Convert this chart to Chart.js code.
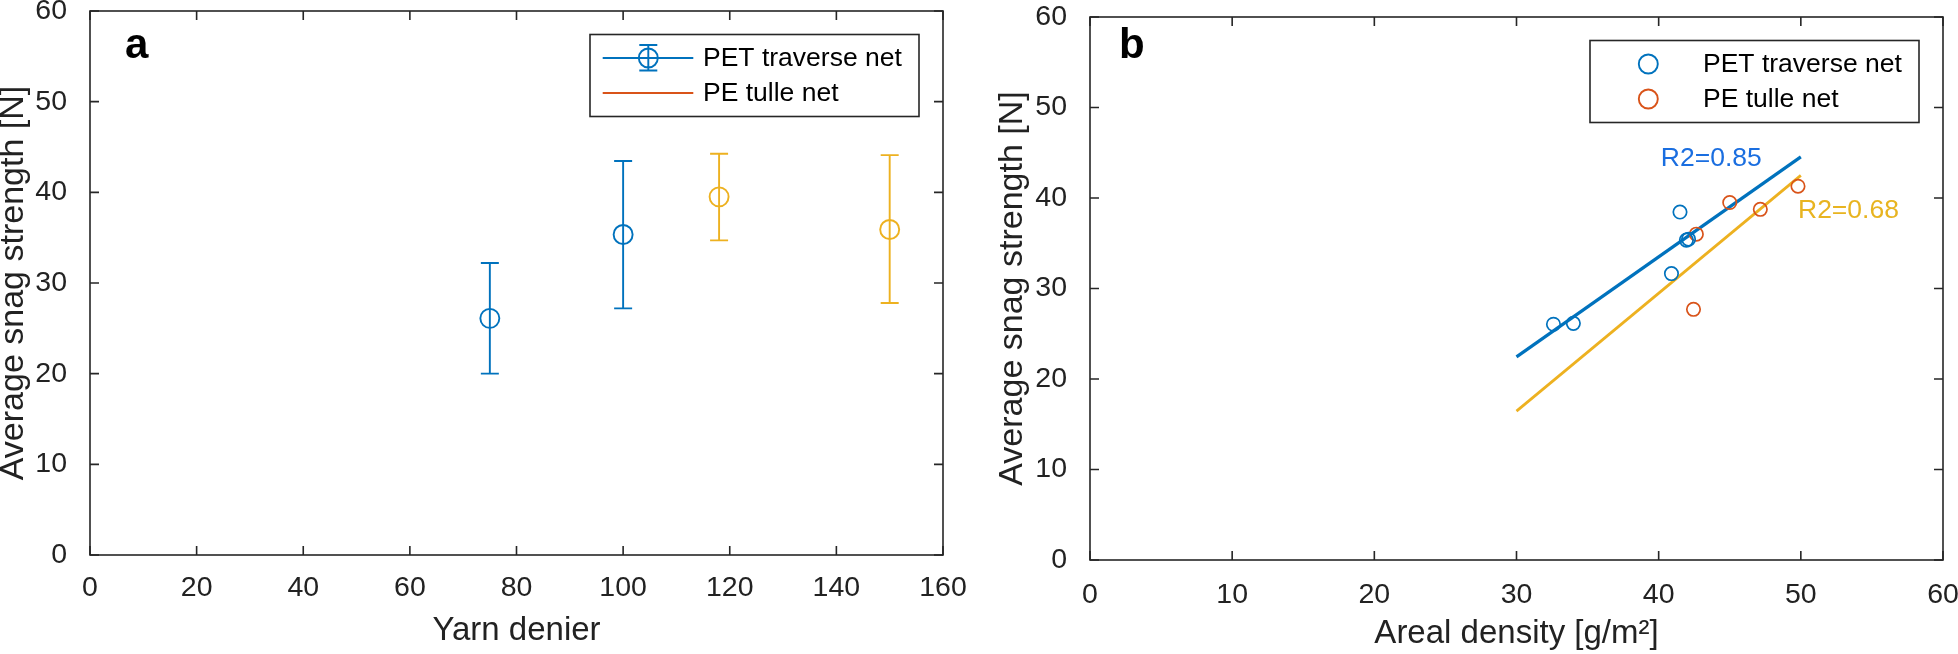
<!DOCTYPE html>
<html>
<head>
<meta charset="utf-8">
<script src="https://cdn.jsdelivr.net/npm/chart.js@4/dist/chart.umd.min.js"></script>
<style>
html, body { margin: 0; padding: 0; background: #fff; width: 1958px; height: 654px; overflow: hidden; position: relative; }
canvas { position: absolute; top: -40px; }
#chartA { left: 0; }
#chartB { left: 979px; }
</style>
</head>
<body>
<canvas id="chartA" width="979" height="734"></canvas>
<canvas id="chartB" width="1000" height="734"></canvas>
<script>
// panel a: yarn denier vs average snag strength (mean with error bars)
var denierPet = [75, 100];
var strengthPet = [26.1, 35.35];
var petErrLow = [20.0, 27.2];
var petErrHigh = [32.2, 43.45];

var denierPe = [118, 150];
var strengthPe = [39.5, 35.9];
var peErrLow = [34.7, 27.8];
var peErrHigh = [44.25, 44.1];

var xTicksA = [0, 20, 40, 60, 80, 100, 120, 140, 160];
var yTicks = [0, 10, 20, 30, 40, 50, 60];

// panel b: areal density vs average snag strength
var densityPet = [32.6, 34.0, 40.9, 41.5, 41.95, 42.1];
var strengthPetB = [26.05, 26.15, 31.65, 38.45, 35.35, 35.45];
var densityPe = [42.45, 42.65, 45.0, 47.15, 49.8];
var strengthPeB = [27.7, 36.0, 39.5, 38.75, 41.3];

// fitted lines (end points)
var fitX = [30, 50];
var fitPet = [22.45, 44.55];
var fitPe = [16.45, 42.5];

var xTicksB = [0, 10, 20, 30, 40, 50, 60];

var legendLabels = ['PET traverse net', 'PE tulle net'];

var BLUE = '#0072BD';
var ORANGE = '#D95319';
var YELLOW = '#EDB120';
var INK = '#222222';
var FONT = '"Liberation Sans", Arial, Helvetica, sans-serif';

Chart.defaults.font.family = FONT;

function toPoints(xs, ys) {
    return xs.map(function(x, i) { return { x: x, y: ys[i] }; });
}

function setTicks(values) {
    return function(scale) {
        scale.ticks = values.map(function(v) { return { value: v }; });
    };
}

// vertical error bars with caps
var errorBarPlugin = {
    id: 'errorBars',
    afterDatasetsDraw: function(chart) {
        var ctx = chart.ctx;
        var xs = chart.scales.x, ys = chart.scales.y;
        chart.data.datasets.forEach(function(ds) {
            if (!ds.errLow) return;
            ctx.save();
            ctx.strokeStyle = ds.borderColor;
            ctx.lineWidth = 1.9;
            ds.data.forEach(function(p, j) {
                var x = xs.getPixelForValue(p.x);
                var lo = ys.getPixelForValue(ds.errLow[j]);
                var hi = ys.getPixelForValue(ds.errHigh[j]);
                ctx.beginPath();
                ctx.moveTo(x, lo); ctx.lineTo(x, hi);
                ctx.moveTo(x - 9, lo); ctx.lineTo(x + 9, lo);
                ctx.moveTo(x - 9, hi); ctx.lineTo(x + 9, hi);
                ctx.stroke();
            });
            ctx.restore();
        });
    }
};

// box around axes with inward ticks on all sides
var framePlugin = {
    id: 'frame',
    afterDraw: function(chart) {
        var ctx = chart.ctx, a = chart.chartArea;
        var xs = chart.scales.x, ys = chart.scales.y;
        ctx.save();
        ctx.strokeStyle = '#262626';
        ctx.lineWidth = 1.6;
        ctx.strokeRect(a.left, a.top, a.right - a.left, a.bottom - a.top);
        ctx.beginPath();
        xs.ticks.forEach(function(t) {
            var p = xs.getPixelForValue(t.value);
            ctx.moveTo(p, a.bottom); ctx.lineTo(p, a.bottom - 9);
            ctx.moveTo(p, a.top); ctx.lineTo(p, a.top + 9);
        });
        ys.ticks.forEach(function(t) {
            var p = ys.getPixelForValue(t.value);
            ctx.moveTo(a.left, p); ctx.lineTo(a.left + 9, p);
            ctx.moveTo(a.right, p); ctx.lineTo(a.right - 9, p);
        });
        ctx.stroke();
        ctx.restore();
    }
};

// legend box drawn like the matlab one, plus the panel letter
function makeLegendPlugin(colors, style, letter, letterDx, letterDy) {
    return {
        id: 'boxLegend',
        afterDraw: function(chart) {
            var ctx = chart.ctx, a = chart.chartArea;
            var w = 329, h = 82;
            var left = a.right - 24 - w, top = a.top + 23.5;
            ctx.save();
            ctx.fillStyle = '#fff';
            ctx.fillRect(left, top, w, h);
            ctx.strokeStyle = '#262626';
            ctx.lineWidth = 1.6;
            ctx.strokeRect(left, top, w, h);
            legendLabels.forEach(function(label, i) {
                var cy = top + 23.5 + i * 35;
                var cx = left + 58.3;
                ctx.strokeStyle = colors[i];
                ctx.lineWidth = 1.9;
                if (style === 'errorbar') {
                    ctx.beginPath();
                    ctx.moveTo(left + 12.7, cy); ctx.lineTo(left + 103.3, cy);
                    ctx.stroke();
                    if (i === 0) {
                        ctx.beginPath();
                        ctx.arc(cx, cy, 9.5, 0, Math.PI * 2);
                        ctx.moveTo(cx, cy - 13); ctx.lineTo(cx, cy + 12.5);
                        ctx.moveTo(cx - 9, cy - 13); ctx.lineTo(cx + 9, cy - 13);
                        ctx.moveTo(cx - 9, cy + 12.5); ctx.lineTo(cx + 9, cy + 12.5);
                        ctx.stroke();
                    }
                } else {
                    ctx.beginPath();
                    ctx.arc(cx, cy, 9.5, 0, Math.PI * 2);
                    ctx.stroke();
                }
                ctx.fillStyle = '#000';
                ctx.font = '26.5px ' + FONT;
                ctx.textBaseline = 'middle';
                ctx.textAlign = 'left';
                ctx.fillText(label, left + 113, cy + 1);
            });
            ctx.fillStyle = '#000';
            ctx.font = 'bold 42px ' + FONT;
            ctx.textBaseline = 'alphabetic';
            ctx.fillText(letter, a.left + letterDx, a.top + letterDy);
            ctx.restore();
        }
    };
}

// R2 labels next to the fitted lines
var r2Plugin = {
    id: 'r2Labels',
    afterDatasetsDraw: function(chart) {
        var ctx = chart.ctx;
        var xs = chart.scales.x, ys = chart.scales.y;
        ctx.save();
        ctx.font = '26.5px ' + FONT;
        ctx.textBaseline = 'middle';
        ctx.textAlign = 'left';
        ctx.fillStyle = '#1a6ee0';
        ctx.fillText('R2=0.85', xs.getPixelForValue(40.15), ys.getPixelForValue(44.3));
        ctx.fillStyle = '#e8b420';
        ctx.fillText('R2=0.68', xs.getPixelForValue(49.8), ys.getPixelForValue(38.6));
        ctx.restore();
    }
};

function axisOptions(min, max, ticks, size, title, titleSize, titlePad, titleLine, tickPad) {
    return {
        type: 'linear', min: min, max: max,
        afterBuildTicks: setTicks(ticks),
        afterFit: function(s) { if (s.isHorizontal()) { s.height = size; } else { s.width = size; } },
        grid: { display: false },
        border: { display: false },
        ticks: { font: { size: 28.5 }, color: INK, maxRotation: 0, padding: tickPad },
        title: { display: true, text: title, color: INK, font: { size: titleSize, lineHeight: titleLine }, padding: titlePad }
    };
}

var xA = axisOptions(0, 160, xTicksA, 99, 'Yarn denier', 33, { top: 0, bottom: 3 }, 1.2, 8);
var yA = axisOptions(0, 60, yTicks, 90, 'Average snag strength [N]', 34, { top: 0, bottom: 0 }, 0.82, 15);

new Chart(document.getElementById('chartA'), {
    type: 'scatter',
    data: {
        datasets: [{
            label: legendLabels[0],
            data: toPoints(denierPet, strengthPet),
            errLow: petErrLow, errHigh: petErrHigh,
            borderColor: BLUE, backgroundColor: 'rgba(0,0,0,0)',
            pointRadius: 9.5, pointHoverRadius: 9.5, pointBorderWidth: 1.9
        }, {
            label: legendLabels[1],
            data: toPoints(denierPe, strengthPe),
            errLow: peErrLow, errHigh: peErrHigh,
            borderColor: YELLOW, backgroundColor: 'rgba(0,0,0,0)',
            pointRadius: 9.5, pointHoverRadius: 9.5, pointBorderWidth: 1.9
        }]
    },
    options: {
        responsive: false, animation: false, devicePixelRatio: 1,
        layout: { padding: { top: 51, right: 36, bottom: 40, left: 0 } },
        plugins: { legend: { display: false }, tooltip: { enabled: false } },
        scales: { x: xA, y: yA }
    },
    plugins: [errorBarPlugin, framePlugin, makeLegendPlugin([BLUE, ORANGE], 'errorbar', 'a', 35, 47)]
});

var xB = axisOptions(0, 60, xTicksB, 94, 'Areal density [g/m\u00B2]', 33, { top: 0, bottom: 3.5 }, 1.0, 10);
var yB = axisOptions(0, 60, yTicks, 111, 'Average snag strength [N]', 34, { top: 13.5, bottom: 0 }, 1.2, 15);

new Chart(document.getElementById('chartB'), {
    type: 'scatter',
    data: {
        datasets: [{
            label: legendLabels[0],
            data: toPoints(densityPet, strengthPetB),
            borderColor: BLUE, backgroundColor: 'rgba(0,0,0,0)',
            pointRadius: 6.7, pointHoverRadius: 6.7, pointBorderWidth: 1.7
        }, {
            label: legendLabels[1],
            data: toPoints(densityPe, strengthPeB),
            borderColor: ORANGE, backgroundColor: 'rgba(0,0,0,0)',
            pointRadius: 6.7, pointHoverRadius: 6.7, pointBorderWidth: 1.7
        }, {
            label: 'PET fit',
            data: toPoints(fitX, fitPet),
            showLine: true, borderColor: BLUE, borderWidth: 3.2, pointRadius: 0
        }, {
            label: 'PE fit',
            data: toPoints(fitX, fitPe),
            showLine: true, borderColor: YELLOW, borderWidth: 2.8, pointRadius: 0
        }]
    },
    options: {
        responsive: false, animation: false, devicePixelRatio: 1,
        layout: { padding: { top: 57, right: 36, bottom: 40, left: 0 } },
        plugins: { legend: { display: false }, tooltip: { enabled: false } },
        scales: { x: xB, y: yB }
    },
    plugins: [r2Plugin, framePlugin, makeLegendPlugin([BLUE, ORANGE], 'marker', 'b', 29, 41)]
});
</script>
</body>
</html>
